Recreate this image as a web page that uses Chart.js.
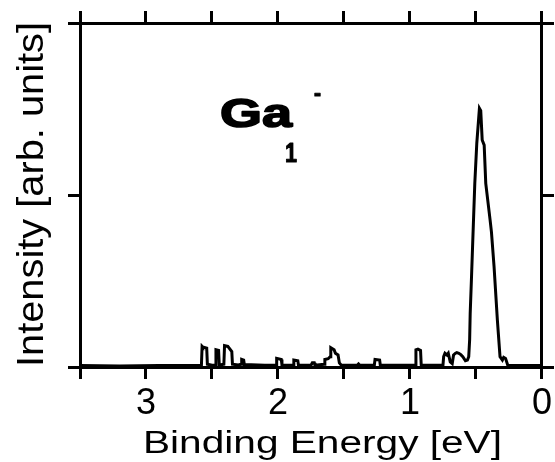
<!DOCTYPE html>
<html>
<head>
<meta charset="utf-8">
<title>Ga1- spectrum</title>
<script src="https://cdn.jsdelivr.net/npm/chart.js@4.4.1/dist/chart.umd.min.js"></script>
<style>
  body { margin: 0; background: #fff; }
  canvas { display: block; }
</style>
</head>
<body>
<canvas id="specChart" width="555" height="462"></canvas>
<script>
// binding energy (eV) and intensity (arb. units)
const energies = [3.5, 3.2, 2.9, 2.6, 2.58, 2.575, 2.57, 2.54, 2.535, 2.5, 2.475, 2.47, 2.45, 2.445,
  2.41, 2.405, 2.38, 2.35, 2.345, 2.3, 2.28, 2.275, 2.26, 2.255, 2.1, 2.015, 2.01, 1.975, 1.97,
  1.9, 1.885, 1.88, 1.85, 1.845, 1.75, 1.74, 1.725, 1.72, 1.65, 1.645, 1.62, 1.605, 1.6,
  1.575, 1.565, 1.545, 1.535, 1.52, 1.4, 1.39, 1.38, 1.27, 1.265, 1.23, 1.225, 1.0,
  0.96, 0.955, 0.94, 0.92, 0.915, 0.91, 0.75, 0.745, 0.735, 0.72, 0.71, 0.695, 0.68,
  0.67, 0.655, 0.645, 0.63, 0.615, 0.6, 0.58, 0.565, 0.555, 0.548, 0.544, 0.535, 0.526,
  0.509, 0.494, 0.474, 0.464, 0.453, 0.438, 0.426, 0.393, 0.383, 0.363, 0.338, 0.318,
  0.3, 0.29, 0.276, 0.26, 0.25, 0.15, 0.0];
const intensities = [0.004, 0.003, 0.004, 0.004, 0.006, 0.06, 0.058, 0.055, 0.008, 0.005, 0.006, 0.05, 0.048, 0.006,
  0.008, 0.062, 0.06, 0.045, 0.008, 0.006, 0.008, 0.022, 0.02, 0.007, 0.005, 0.006, 0.025, 0.022, 0.006,
  0.005, 0.006, 0.02, 0.018, 0.005, 0.005, 0.012, 0.012, 0.005, 0.008, 0.022, 0.024, 0.03, 0.056,
  0.05, 0.04, 0.035, 0.012, 0.005, 0.005, 0.009, 0.005, 0.006, 0.022, 0.02, 0.006, 0.005,
  0.006, 0.05, 0.052, 0.048, 0.006, 0.005, 0.006, 0.03, 0.04, 0.035, 0.04, 0.015, 0.01,
  0.035, 0.04, 0.042, 0.04, 0.036, 0.03, 0.018, 0.02, 0.03, 0.08, 0.155, 0.25, 0.349,
  0.534, 0.65, 0.752, 0.745, 0.66, 0.645, 0.534, 0.427, 0.393, 0.291, 0.136, 0.03,
  0.02, 0.028, 0.025, 0.006, 0.004, 0.004, 0.004];

const xTickLabels = ["0", "1", "2", "3"];
const xTitle = "Binding Energy [eV]";
const yTitle = "Intensity [arb. units]";

const FONT = "'Liberation Sans', Arial, Helvetica, sans-serif";

// draw text stretched to a given width (the original lettering is wide)
function drawWide(ctx, text, font, x, y, width, angle, stroke) {
  ctx.save();
  ctx.font = font;
  ctx.fillStyle = "#000";
  ctx.strokeStyle = "#000";
  ctx.textBaseline = "alphabetic";
  ctx.textAlign = "left";
  ctx.translate(x, y);
  if (angle) ctx.rotate(angle);
  const w = ctx.measureText(text).width;
  ctx.scale(width / w, 1);
  ctx.fillText(text, 0, 0);
  if (stroke) {
    ctx.lineWidth = stroke;
    ctx.lineJoin = "round";
    ctx.strokeText(text, 0, 0);
  }
  ctx.restore();
}

const labelsPlugin = {
  id: "labelsPlugin",
  afterDraw(chart) {
    const ctx = chart.ctx;
    drawWide(ctx, yTitle, "36px " + FONT, 43, 367, 345, -Math.PI / 2);
    drawWide(ctx, xTitle, "31px " + FONT, 143, 453, 359);
    drawWide(ctx, "Ga", "bold 41px " + FONT, 220, 127, 72, 0, 1.6);
    drawWide(ctx, "1", "bold 27px " + FONT, 285, 162, 12, 0, 1);
    drawWide(ctx, "-", "bold 22px " + FONT, 314, 100, 7, 0, 1);
  }
};

const axisGrid = {
  drawOnChartArea: false,
  drawTicks: true,
  tickLength: 12,
  lineWidth: 3,
  tickWidth: 3,
  color: "#000",
  tickColor: "#000"
};
const axisBorder = { display: true, width: 3, color: "#000" };

let ctx = document.getElementById("specChart").getContext("2d");
new Chart(ctx, {
  type: "line",
  data: {
    datasets: [{
      data: energies.map((e, i) => ({ x: e, y: intensities[i] })),
      borderColor: "#000",
      borderWidth: 3,
      pointRadius: 0,
      tension: 0,
      fill: false
    }]
  },
  options: {
    responsive: false,
    animation: false,
    devicePixelRatio: 1,
    layout: { padding: 0 },
    plugins: {
      legend: { display: false },
      tooltip: { enabled: false }
    },
    scales: {
      x: {
        type: "linear",
        position: "bottom",
        reverse: true,
        min: 0,
        max: 3.5,
        ticks: {
          stepSize: 0.5,
          autoSkip: false,
          maxRotation: 0,
          padding: 3,
          color: "#000",
          font: { family: FONT, size: 36 },
          callback: (v) => (Number.isInteger(v) ? xTickLabels[v] : "")
        },
        grid: axisGrid,
        border: axisBorder,
        afterFit: (s) => { s.height = 95; }
      },
      xTop: {
        type: "linear",
        position: "top",
        reverse: true,
        min: 0,
        max: 3.5,
        ticks: { stepSize: 0.5, display: false },
        grid: axisGrid,
        border: axisBorder,
        afterFit: (s) => { s.height = 23; }
      },
      y: {
        position: "left",
        min: 0,
        max: 1,
        ticks: { stepSize: 0.5, display: false },
        grid: axisGrid,
        border: axisBorder,
        afterFit: (s) => { s.width = 80; }
      },
      yRight: {
        position: "right",
        min: 0,
        max: 1,
        ticks: { stepSize: 0.5, display: false },
        grid: axisGrid,
        border: axisBorder,
        afterFit: (s) => { s.width = 10; }
      }
    }
  },
  plugins: [labelsPlugin]
});
</script>
</body>
</html>
